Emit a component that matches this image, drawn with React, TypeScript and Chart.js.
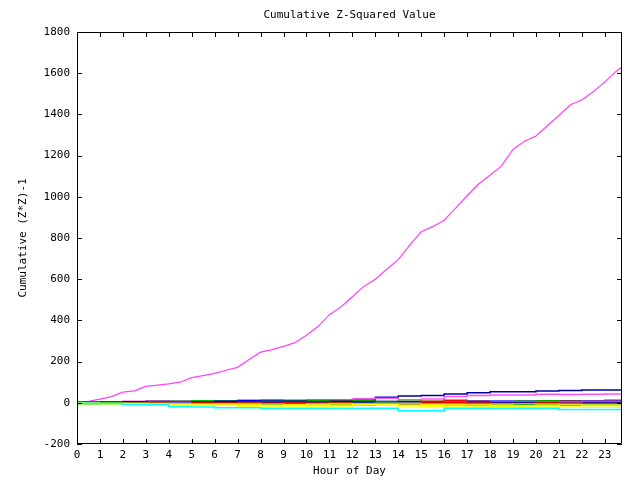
import React, { useEffect, useRef } from "react";
import { Chart, registerables } from "chart.js";

Chart.register(...registerables);

const TITLE = "Cumulative Z-Squared Value";
const X_TITLE = "Hour of Day";
const Y_TITLE = "Cumulative (Z*Z)-1";

// x positions (hours)
const halfHours = [
  0, 0.5, 1, 1.5, 2, 2.5, 3, 3.5, 4, 4.5, 5, 5.5, 6, 6.5, 7, 7.5, 8, 8.5, 9, 9.5,
  10, 10.5, 11, 11.5, 12, 12.5, 13, 13.5, 14, 14.5, 15, 15.5, 16, 16.5, 17, 17.5,
  18, 18.5, 19, 19.5, 20, 20.5, 21, 21.5, 22, 22.5, 23, 23.5, 23.75,
];
const hours = [
  0, 1, 2, 3, 4, 5, 6, 7, 8, 9, 10, 11, 12, 13, 14, 15, 16, 17, 18, 19, 20, 21, 22, 23, 23.75,
];

// the dominant (magenta) series, half-hourly
const seriesMain = [
  0, 7, 18, 30, 52, 58, 80, 86, 92, 100, 122, 132, 143, 158, 172, 210, 246, 258, 274, 292,
  328, 370, 428, 465, 515, 565, 600, 648, 695, 765, 830, 855, 886, 945, 1005, 1062,
  1105, 1150, 1230, 1270, 1295, 1345, 1395, 1447, 1470, 1510, 1558, 1610, 1630,
];

// the bundle of small series, hourly
const seriesNavy = [0, 2, 4, 5, 6, 8, 8, 8, 6, 8, 10, 12, 12, 14, 27, 33, 35, 43, 49, 54, 54, 57, 60, 62, 62];
const seriesPink = [0, 3, 5, 8, 10, 10, 10, 10, 10, 10, 10, 10, 10, 20, 22, 15, 18, 30, 36, 38, 38, 42, 40, 42, 43];
const seriesRed = [0, -2, 0, 2, 3, -2, 0, 2, 5, 3, 5, 8, 10, 8, 5, 5, 8, 12, 10, 10, 10, 8, 10, 10, 12];
const seriesGreen = [0, -5, -3, 2, 5, 8, 10, 8, 5, 3, 8, 5, 2, 3, 5, 2, 0, 3, 5, 5, 8, 8, 5, 5, 5];
const seriesBlue = [0, 0, 3, 5, 2, 0, 5, 8, 10, 8, 8, 5, 0, 0, 0, 3, 5, 5, 0, -2, 0, 2, 3, 0, -2];
const seriesCyan = [0, -2, -3, -8, -10, -19, -20, -24, -24, -27, -27, -27, -27, -27, -27, -38, -38, -27, -27, -27, -27, -27, -32, -32, -32];
const seriesYellow = [0, -3, -5, -5, -8, -10, -10, -12, -15, -15, -15, -15, -15, -10, -10, -15, -18, -20, -20, -18, -20, -20, -20, -22, -22];
const seriesDarkRed = [0, 0, 2, -2, 0, -5, 0, 0, 2, 5, 3, 5, 2, -5, -5, -3, 0, 2, 5, -5, -3, 0, -5, -5, -5];
const seriesDarkGreen = [0, 2, 0, -2, -3, -5, -5, -8, -8, -5, -5, -8, -10, -10, -5, -5, -5, -8, -10, -10, -8, -10, -12, -10, -10];
const seriesPeriwinkle = [0, 0, -2, 0, 2, 3, 2, 0, -2, -5, -5, -8, -8, -5, -2, 0, 3, 5, 8, 10, 8, 5, 5, 8, 8];
const seriesLime = [0, -1, -2, -4, -5, -6, -6, -5, -4, -6, -8, -6, -4, -3, -2, -4, -6, -8, -8, -6, -5, -6, -8, -9, -9];
const seriesBlue2 = [0, 1, 2, 4, 6, 5, 4, 6, 8, 10, 10, 10, 8, 6, 6, 4, 2, 4, 6, 4, 4, 6, 8, 8, 8];
const seriesRed2 = [0, 0, -1, -2, -2, -4, -3, -4, -6, -4, -2, -4, -6, -8, -6, -6, -4, -2, -2, -4, -6, -4, -2, -4, -4];
const seriesGreen2 = [0, 1, 3, 3, 6, 4, 6, 10, 12, 14, 12, 10, 8, 10, 6, 8, 6, 4, 6, 8, 10, 10, 6, 4, 4];
const seriesYellow2 = [0, -2, -4, -3, -4, -6, -8, -8, -10, -12, -10, -8, -6, -8, -10, -12, -10, -8, -10, -12, -14, -12, -10, -12, -12];
const seriesNavy2 = [0, 2, 2, 0, 2, 4, 2, 4, 2, 0, 2, 4, 6, 4, 2, 4, 2, 0, -2, 0, 2, 0, -2, -1, -1];

const X_MIN = 0;
const X_MAX = 23.75;
const Y_MIN = -200;
const Y_MAX = 1800;
const Y_STEP = 200;

const bundle: [number[], string][] = [
  [seriesCyan, "#00ffff"],
  [seriesYellow, "#ffff00"],
  [seriesYellow2, "#e8e800"],
  [seriesLime, "#80e000"],
  [seriesDarkGreen, "#008000"],
  [seriesRed2, "#ff2020"],
  [seriesDarkRed, "#c00000"],
  [seriesPeriwinkle, "#6060ff"],
  [seriesNavy2, "#0000c0"],
  [seriesBlue, "#0000ff"],
  [seriesGreen2, "#00a000"],
  [seriesBlue2, "#2020ff"],
  [seriesGreen, "#00c000"],
  [seriesRed, "#ff0000"],
  [seriesPink, "#ff50ff"],
  [seriesNavy, "#0000a0"],
];

const framePlugin = {
  id: "frame",
  afterDraw(chart: any) {
    const { ctx, chartArea } = chart;
    const { left, right, top, bottom } = chartArea;
    const xs = chart.scales.x;
    const ys = chart.scales.y;
    ctx.save();
    ctx.strokeStyle = "#000";
    ctx.lineWidth = 1;
    ctx.beginPath();
    ctx.rect(Math.round(left) + 0.5, Math.round(top) + 0.5, Math.round(right - left) - 1, Math.round(bottom - top) - 1);
    ctx.stroke();
    const tl = 5;
    ctx.beginPath();
    xs.ticks.forEach((t: any) => {
      const px = Math.round(xs.getPixelForValue(t.value)) + 0.5;
      ctx.moveTo(px, bottom);
      ctx.lineTo(px, bottom - tl);
      ctx.moveTo(px, top);
      ctx.lineTo(px, top + tl);
    });
    ys.ticks.forEach((t: any) => {
      const py = Math.round(ys.getPixelForValue(t.value)) + 0.5;
      ctx.moveTo(left, py);
      ctx.lineTo(left + tl, py);
      ctx.moveTo(right, py);
      ctx.lineTo(right - tl, py);
    });
    ctx.stroke();
    ctx.fillStyle = "#000";
    ctx.font = "11px 'DejaVu Sans Mono'";
    ctx.textAlign = "center";
    ctx.textBaseline = "middle";
    const cx = (left + right) / 2;
    ctx.fillText(TITLE, cx, 15);
    ctx.fillText(X_TITLE, cx, 471);
    ctx.translate(23, (top + bottom) / 2);
    ctx.rotate(-Math.PI / 2);
    ctx.fillText(Y_TITLE, 0, 0);
    ctx.restore();
  },
};

export default function App() {
  const ref = useRef<HTMLCanvasElement>(null);
  useEffect(() => {
    if (!ref.current) return;
    Chart.defaults.font.family = "'DejaVu Sans Mono'";
    Chart.defaults.font.size = 11;
    Chart.defaults.color = "#000";
    const datasets: any[] = bundle.map(([vals, color]) => ({
      data: hours.map((h, i) => ({ x: h, y: vals[i] })),
      borderColor: color,
      borderWidth: 1.5,
      pointRadius: 0,
      stepped: "after",
      fill: false,
    }));
    datasets.push({
      data: halfHours.map((h, i) => ({ x: h, y: seriesMain[i] })),
      borderColor: "#ff40ff",
      borderWidth: 1.2,
      pointRadius: 0,
      tension: 0,
      fill: false,
    });
    const chart = new Chart(ref.current, {
      type: "line",
      data: { datasets },
      options: {
        animation: false,
        responsive: false,
        layout: { padding: { left: 0, top: 32, right: 18, bottom: 0 } },
        plugins: { legend: { display: false }, tooltip: { enabled: false }, title: { display: false } },
        scales: {
          x: {
            type: "linear",
            min: X_MIN,
            max: X_MAX,
            grid: { display: false, drawTicks: false },
            border: { display: false },
            ticks: {
              stepSize: 1,
              includeBounds: false,
              padding: 5,
              maxRotation: 0,
              autoSkip: false,
              font: { size: 11 },
              callback: (v: any) => String(v),
            },
            afterFit(scale: any) {
              scale.height = 36;
            },
          },
          y: {
            type: "linear",
            min: Y_MIN,
            max: Y_MAX,
            grid: { display: false, drawTicks: false },
            border: { display: false },
            ticks: { stepSize: Y_STEP, padding: 7, font: { size: 11 }, callback: (v: any) => String(v) },
            afterFit(scale: any) {
              scale.width = 77;
            },
          },
        },
      },
      plugins: [framePlugin],
    });
    return () => chart.destroy();
  }, []);
  return (
    <div style={{ position: "absolute", left: 0, top: 0, width: 640, height: 480, background: "#fff" }}>
      <canvas ref={ref} width={640} height={480} style={{ width: 640, height: 480 }} />
    </div>
  );
}
